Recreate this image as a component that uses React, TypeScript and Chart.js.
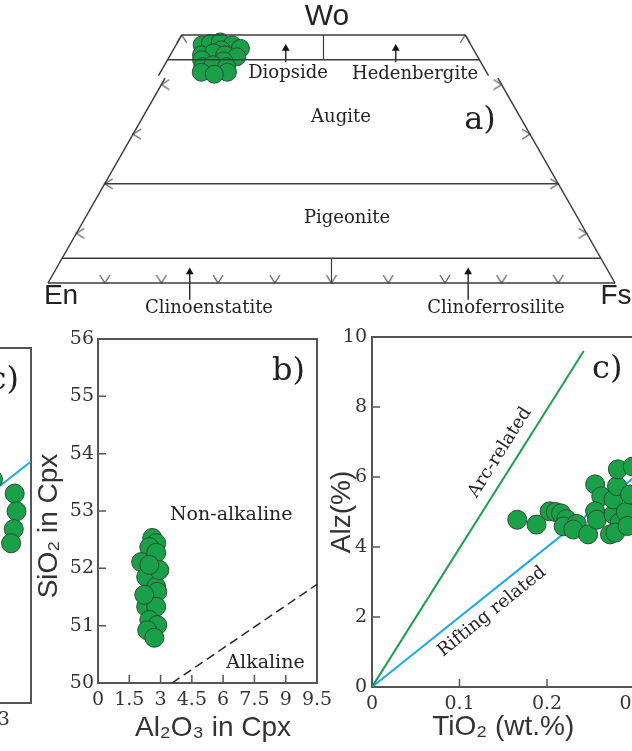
import React, { useEffect, useRef } from "react";
import { Chart, registerables } from "chart.js";

Chart.register(...registerables);

// ================= DATA =================
// (a) Pyroxene quadrilateral compositions, mol %
const pxWo = [48.0, 48.3, 48.6, 48.0, 47.3, 47.0, 46.0, 46.4, 46.0, 45.6, 45.0, 44.8, 43.6, 44.0, 43.6, 42.5, 42.5, 42.1];
const pxEn = [47.4, 45.8, 43.9, 42.1, 41.0, 44.5, 48.5, 46.2, 44.4, 42.5, 49.0, 45.2, 49.5, 47.5, 45.3, 50.3, 45.7, 48.2];
const pxFs = [4.6, 5.9, 7.5, 9.9, 11.7, 8.5, 5.5, 7.4, 9.6, 11.9, 6.0, 10.0, 6.9, 8.5, 11.1, 7.2, 11.8, 9.7];
// Wo isopleths of the main quadrilateral and of the Wo45–50 strip
const woMainBoundaries = [20, 5, 0];
const woStripBoundaries = [50, 45];
const mainTopWo = 41.3;
const stripBottomWo = 41.8;
// arrow-tick positions
const baseTickFs = [10, 20, 30, 40, 50, 60, 70, 80, 90];
const sideTickWo = [10, 20, 30, 40];
// label pointers [woTail, fsTail, woHead, fsHead]
const stripArrows = [
  [44.5, 21.1, 47.3, 19.7],
  [44.5, 40.5, 47.3, 39.1],
];
const baseArrows = [
  [-3.4, 26.7, 2.2, 23.9],
  [-3.4, 75.8, 2.2, 73.0],
];

// (b) Al2O3 vs SiO2 in Cpx
const bAl2O3 = [2.60, 2.79, 2.46, 2.07, 2.79, 2.31, 2.79, 2.55, 2.84, 2.31, 2.79, 2.46, 2.84, 2.36, 2.70, 2.22, 2.94, 2.46];
const bSiO2 = [52.53, 52.44, 52.37, 52.11, 52.27, 51.85, 51.68, 51.50, 51.59, 51.33, 51.33, 51.10, 51.01, 50.92, 50.79, 51.54, 51.97, 52.06];
const bXTicks = [0, 1.5, 3, 4.5, 6, 7.5, 9, 10.5];
const bXTickLabels = ["0", "1.5", "3", "4.5", "6", "7.5", "9", "9.5"];
const bYTicks = [50, 51, 52, 53, 54, 55, 56];
const alkBoundaryX = [3.55, 10.5];
const alkBoundaryY = [50, 51.72];

// (c) TiO2 vs Alz
const cTiO2 = [0.166, 0.188, 0.203, 0.210, 0.216, 0.222, 0.219, 0.234, 0.230, 0.247, 0.255, 0.262, 0.255, 0.257, 0.272, 0.276, 0.276, 0.280, 0.281, 0.283, 0.278, 0.290, 0.292, 0.295, 0.298, 0.322, 0.324, 0.321, 0.318];
const cAlz = [4.78, 4.64, 5.02, 5.00, 4.96, 4.80, 4.59, 4.66, 4.50, 4.36, 5.79, 5.45, 5.02, 4.78, 4.36, 4.93, 5.36, 5.74, 6.22, 4.70, 4.41, 5.00, 4.60, 5.50, 6.30, 5.90, 5.40, 4.90, 4.50];
const cXTicks = [0, 0.1, 0.2, 0.3];
const cYTicks = [0, 2, 4, 6, 8, 10];
const arcLineX = [0, 0.242];
const arcLineY = [0, 9.6];
const riftLineX = [0, 0.34];
const riftLineY = [0, 6.8];

// ================= STYLE =================
const SERIF = '"DejaVu Serif", "Liberation Serif", serif';
const SANS = '"Liberation Sans", Arial, sans-serif';
const GREEN_FILL = "#19a048";
const GREEN_EDGE = "#2b4d33";
const LINE = "#3c3c3c";
const FRAME = "#555";

// ================= PLUGINS =================
const framePlugin = {
  id: "frame",
  beforeDatasetsDraw(chart: any, _a: any, opts: any) {
    if (!opts || !opts.enabled) return;
    const { ctx, chartArea: a, scales } = chart;
    ctx.save();
    ctx.strokeStyle = opts.color;
    ctx.lineWidth = opts.width;
    ctx.strokeRect(a.left, a.top, a.right - a.left, a.bottom - a.top);
    ctx.lineWidth = opts.tickWidth;
    const xs = scales.x;
    const ys = scales.y;
    ctx.beginPath();
    xs.ticks.forEach((t: any) => {
      if (t.value <= xs.min || t.value >= xs.max) return;
      const p = xs.getPixelForValue(t.value);
      ctx.moveTo(p, a.bottom);
      ctx.lineTo(p, a.bottom - opts.len);
    });
    ys.ticks.forEach((t: any) => {
      if (t.value <= ys.min || t.value >= ys.max) return;
      const p = ys.getPixelForValue(t.value);
      ctx.moveTo(a.left, p);
      ctx.lineTo(a.left + opts.len, p);
    });
    ctx.stroke();
    ctx.restore();
  },
};

const textPlugin = {
  id: "texts",
  afterDatasetsDraw(chart: any, _a: any, opts: any) {
    const items = (opts && opts.items) || [];
    const { ctx, chartArea: a } = chart;
    const sx = chart.scales.x;
    const sy = chart.scales.y;
    for (const it of items) {
      let px: number, py: number;
      if (it.fromRight !== undefined) {
        px = a.right - it.fromRight;
        py = a.top + it.fromTop;
      } else if (it.fromLeft !== undefined) {
        px = a.left - it.fromLeft;
        py = a.top + it.fromTop;
      } else {
        px = sx.getPixelForValue(it.x);
        py = sy.getPixelForValue(it.y);
      }
      let rot = ((it.rot || 0) * Math.PI) / 180;
      if (it.along) {
        const [x1, y1, x2, y2] = it.along;
        rot = Math.atan2(
          sy.getPixelForValue(y2) - sy.getPixelForValue(y1),
          sx.getPixelForValue(x2) - sx.getPixelForValue(x1)
        );
      }
      ctx.save();
      ctx.translate(px, py);
      ctx.rotate(rot);
      ctx.font = it.font;
      ctx.fillStyle = it.color || "#222";
      ctx.textAlign = it.align || "center";
      ctx.textBaseline = "middle";
      ctx.fillText(it.text, 0, 0);
      ctx.restore();
    }
  },
};

// chevron marker (vertex at the canvas centre, opening upward)
function makeChevron(w: number, h: number, color: string, lw: number) {
  const c = document.createElement("canvas");
  c.width = w;
  c.height = h * 2;
  const g = c.getContext("2d")!;
  g.strokeStyle = color;
  g.lineWidth = lw;
  g.beginPath();
  g.moveTo(1, 1);
  g.lineTo(w / 2, h);
  g.lineTo(w - 1, 1);
  g.stroke();
  return c;
}

// ================= PANEL A =================
const A_W = 632;
const A_H = 330;
const EN_PX = 48;
const FS_PX = 615;
const BASE_PX = 283;
const TOP_PX = 35;
const UNIT_X = FS_PX - EN_PX;
const UNIT_Y = (BASE_PX - TOP_PX) / 0.5;
const STRIP_SHIFT = -8 / UNIT_X; // the Wo45–50 strip is printed slightly left of the main field

function tern(wo: number, fs: number, shift = 0) {
  return { x: (fs + 0.5 * wo) / 100 + shift, y: wo / 100 };
}

function makeA() {
  const chev = makeChevron(12, 9, "#555", 1.2);

  const lineDs = (pts: { x: number; y: number }[], width = 1.5) => ({
    data: pts,
    showLine: true,
    borderColor: LINE,
    borderWidth: width,
    pointRadius: 0,
    clip: false,
  });

  const datasets: any[] = [];
  woMainBoundaries.forEach((wo) => datasets.push(lineDs([tern(wo, 0), tern(wo, 100 - wo)])));
  woStripBoundaries.forEach((wo) =>
    datasets.push(lineDs([tern(wo, 0, STRIP_SHIFT), tern(wo, 100 - wo, STRIP_SHIFT)]))
  );
  // sides of main field
  datasets.push(lineDs([tern(0, 0), tern(mainTopWo, 0)]));
  datasets.push(lineDs([tern(0, 100), tern(mainTopWo, 100 - mainTopWo)]));
  // sides of the strip
  datasets.push(lineDs([tern(stripBottomWo, 0, STRIP_SHIFT), tern(50, 0, STRIP_SHIFT)]));
  datasets.push(lineDs([tern(stripBottomWo, 100 - stripBottomWo, STRIP_SHIFT), tern(50, 50, STRIP_SHIFT)]));
  // dividers
  datasets.push(lineDs([tern(50, 25, STRIP_SHIFT), tern(45, 27.5, STRIP_SHIFT)], 1.2));
  datasets.push(lineDs([tern(5, 47.5), tern(0, 50)], 1.2));

  // chevron ticks
  const chevPts: { x: number; y: number }[] = [];
  const chevRot: number[] = [];
  baseTickFs.forEach((fs) => {
    chevPts.push(tern(0, fs));
    chevRot.push(0);
  });
  sideTickWo.forEach((wo) => {
    chevPts.push(tern(wo, 0));
    chevRot.push(90);
    chevPts.push(tern(wo, 100 - wo));
    chevRot.push(-90);
  });
  chevPts.push(tern(50, 0, STRIP_SHIFT));
  chevRot.push(180);
  chevPts.push(tern(50, 50, STRIP_SHIFT));
  chevRot.push(180);
  datasets.push({
    data: chevPts,
    pointStyle: chev,
    pointRadius: 6,
    rotation: (c: any) => chevRot[c.dataIndex],
    clip: false,
  });

  // label pointers
  const arrowDs = (a: number[], shift: number) => ({
    data: [tern(a[0], a[1], shift), tern(a[2], a[3], shift)],
    showLine: true,
    borderColor: "#111",
    borderWidth: 1.3,
    pointRadius: [0, 4.5],
    pointStyle: "triangle",
    backgroundColor: "#111",
    pointBorderWidth: 0,
    clip: false,
  });
  stripArrows.forEach((a) => datasets.push(arrowDs(a, STRIP_SHIFT)));
  baseArrows.forEach((a) => datasets.push(arrowDs(a, 0)));

  // samples
  datasets.push({
    data: pxWo.map((w, i) => {
      const s = w + pxEn[i] + pxFs[i];
      return tern((w / s) * 100, (pxFs[i] / s) * 100, STRIP_SHIFT);
    }),
    pointRadius: 9,
    backgroundColor: GREEN_FILL,
    borderColor: GREEN_EDGE,
    borderWidth: 1,
    clip: false,
  });

  const txt = (text: string, px: number, py: number, font: string) => ({
    text,
    x: (px - EN_PX) / UNIT_X,
    y: (BASE_PX - py) / UNIT_Y,
    font,
  });

  return {
    type: "scatter",
    data: { datasets },
    options: {
      animation: false,
      responsive: false,
      devicePixelRatio: 1,
      events: [],
      layout: { padding: 0, autoPadding: false },
      scales: {
        x: { type: "linear", display: false, min: -EN_PX / UNIT_X, max: (A_W - EN_PX) / UNIT_X },
        y: { type: "linear", display: false, min: -(A_H - BASE_PX) / UNIT_Y, max: BASE_PX / UNIT_Y },
      },
      plugins: {
        legend: { display: false },
        tooltip: { enabled: false },
        texts: {
          items: [
            txt("Wo", 327, 17, `30px ${SANS}`),
            txt("En", 61, 296, `28px ${SANS}`),
            txt("Fs", 616, 296, `28px ${SANS}`),
            txt("Diopside", 288, 73, `18px ${SERIF}`),
            txt("Hedenbergite", 415, 74, `18px ${SERIF}`),
            txt("Augite", 341, 117, `18px ${SERIF}`),
            txt("Pigeonite", 347, 218, `18px ${SERIF}`),
            txt("a)", 480, 121, `32px ${SERIF}`),
            txt("Clinoenstatite", 209, 308, `18px ${SERIF}`),
            txt("Clinoferrosilite", 496, 308, `18px ${SERIF}`),
          ],
        },
      },
    },
    plugins: [textPlugin],
  };
}

// ================= PANELS B / C =================
const tickFont = { family: SERIF, size: 19 };
const titleFont = { family: SANS, size: 28 };

function makeB() {
  return {
    type: "scatter",
    data: {
      datasets: [
        {
          data: alkBoundaryX.map((x, i) => ({ x, y: alkBoundaryY[i] })),
          showLine: true,
          borderColor: "#222",
          borderWidth: 1.5,
          borderDash: [9, 5],
          pointRadius: 0,
        },
        {
          data: bAl2O3.map((x, i) => ({ x, y: bSiO2[i] })),
          pointRadius: 9.5,
          backgroundColor: GREEN_FILL,
          borderColor: GREEN_EDGE,
          borderWidth: 1,
          clip: false,
        },
      ],
    },
    options: {
      animation: false,
      responsive: false,
      devicePixelRatio: 1,
      events: [],
      layout: { padding: { top: 19, right: 23, left: 0, bottom: 0 }, autoPadding: false },
      scales: {
        x: {
          type: "linear",
          min: 0,
          max: 10.5,
          afterBuildTicks: (s: any) => {
            s.ticks = bXTicks.map((v) => ({ value: v }));
          },
          afterFit: (s: any) => {
            s.height = 68;
          },
          grid: { display: false, drawTicks: false },
          border: { display: false },
          ticks: {
            autoSkip: false,
            maxRotation: 0,
            minRotation: 0,
            padding: 6,
            color: "#333",
            font: tickFont,
            callback: (_v: any, i: number) => bXTickLabels[i],
          },
          title: { display: false },
        },
        y: {
          type: "linear",
          min: 50,
          max: 56,
          afterBuildTicks: (s: any) => {
            s.ticks = bYTicks.map((v) => ({ value: v }));
          },
          afterFit: (s: any) => {
            s.width = 98;
          },
          grid: { display: false, drawTicks: false },
          border: { display: false },
          ticks: { autoSkip: false, padding: 4, color: "#333", font: tickFont },
          title: { display: false },
        },
      },
      plugins: {
        legend: { display: false },
        tooltip: { enabled: false },
        frame: { enabled: true, color: FRAME, width: 2, tickWidth: 1.5, len: 8 },
        texts: {
          items: [
            { text: "b)", fromRight: 12, fromTop: 33, font: `32px ${SERIF}`, align: "right" },
            { text: "Non-alkaline", x: 6.39, y: 52.93, font: `19px ${SERIF}` },
            { text: "Alkaline", x: 8.03, y: 50.35, font: `19px ${SERIF}` },
            { text: "SiO₂ in Cpx", fromLeft: 49, fromTop: 187, rot: -90, font: `28px ${SANS}`, color: "#333" },
            { text: "Al₂O₃ in Cpx", fromLeft: -115, fromTop: 389, font: `28px ${SANS}`, color: "#333" },
          ],
        },
      },
    },
    plugins: [framePlugin, textPlugin],
  };
}

function makeC(g: { xMax: number; padTop: number; padRight: number; axisH: number; yAxisW: number }) {
  return {
    type: "scatter",
    data: {
      datasets: [
        {
          data: arcLineX.map((x, i) => ({ x, y: arcLineY[i] })),
          showLine: true,
          borderColor: "#1f9d4f",
          borderWidth: 2,
          pointRadius: 0,
        },
        {
          data: cTiO2.map((x, i) => ({ x, y: cAlz[i] })),
          pointRadius: 9.5,
          backgroundColor: GREEN_FILL,
          borderColor: GREEN_EDGE,
          borderWidth: 1,
        },
        {
          data: riftLineX.map((x, i) => ({ x, y: riftLineY[i] })),
          showLine: true,
          borderColor: "#1ea8e4",
          borderWidth: 2,
          pointRadius: 0,
        },
      ],
    },
    options: {
      animation: false,
      responsive: false,
      devicePixelRatio: 1,
      events: [],
      layout: { padding: { top: g.padTop, right: g.padRight, left: 0, bottom: 0 }, autoPadding: false },
      scales: {
        x: {
          type: "linear",
          min: 0,
          max: g.xMax,
          afterBuildTicks: (s: any) => {
            s.ticks = cXTicks.map((v) => ({ value: v }));
          },
          afterFit: (s: any) => {
            s.height = g.axisH;
          },
          grid: { display: false, drawTicks: false },
          border: { display: false },
          ticks: { autoSkip: false, maxRotation: 0, minRotation: 0, padding: 6, color: "#333", font: tickFont },
          title: { display: true, text: "TiO₂ (wt.%)", color: "#333", font: titleFont, padding: { top: 0, bottom: 7 } },
        },
        y: {
          type: "linear",
          min: 0,
          max: 10,
          afterBuildTicks: (s: any) => {
            s.ticks = cYTicks.map((v) => ({ value: v }));
          },
          afterFit: (s: any) => {
            s.width = g.yAxisW;
          },
          grid: { display: false, drawTicks: false },
          border: { display: false },
          ticks: { autoSkip: false, padding: 5, color: "#333", font: tickFont },
          title: { display: true, text: "Alz(%)", color: "#333", font: titleFont, padding: { top: 25, bottom: 0 } },
        },
      },
      plugins: {
        legend: { display: false },
        tooltip: { enabled: false },
        frame: { enabled: true, color: FRAME, width: 2, tickWidth: 1.5, len: 8 },
        texts: {
          items: [
            { text: "c)", fromRight: 12, fromTop: 33, font: `32px ${SERIF}`, align: "right" },
            {
              text: "Arc-related",
              x: 0.1463,
              y: 6.7,
              font: `18px ${SERIF}`,
              along: [arcLineX[0], arcLineY[0], arcLineX[1], arcLineY[1]],
            },
            {
              text: "Rifting related",
              x: 0.137,
              y: 2.15,
              font: `18px ${SERIF}`,
              along: [riftLineX[0], riftLineY[0], riftLineX[1], riftLineY[1]],
            },
          ],
        },
      },
    },
    plugins: [framePlugin, textPlugin],
  };
}

// ================= COMPONENTS =================
function ChartCanvas(props: { left: number; top: number; width: number; height: number; make: () => any }) {
  const ref = useRef<HTMLCanvasElement | null>(null);
  useEffect(() => {
    if (!ref.current) return;
    const chart = new Chart(ref.current, props.make());
    return () => chart.destroy();
  }, []);
  return (
    <canvas
      ref={ref}
      width={props.width}
      height={props.height}
      style={{
        position: "absolute",
        left: props.left,
        top: props.top,
        width: props.width,
        height: props.height,
      }}
    />
  );
}

export default function App() {
  return (
    <div
      style={{
        position: "absolute",
        left: 0,
        top: 0,
        width: 632,
        height: 751,
        overflow: "hidden",
        background: "#ffffff",
      }}
    >
      {/* cropped neighbour panel (right edge of a TiO2–Alz plot) */}
      <ChartCanvas
        left={-349}
        top={330}
        width={400}
        height={431}
        make={() => makeC({ xMax: 0.34, padTop: 18, padRight: 20, axisH: 58, yAxisW: 72 })}
      />
      <ChartCanvas left={0} top={0} width={A_W} height={A_H} make={makeA} />
      <ChartCanvas left={0} top={320} width={340} height={431} make={makeB} />
      <ChartCanvas
        left={300}
        top={320}
        width={400}
        height={431}
        make={() => makeC({ xMax: 0.3, padTop: 17, padRight: 65.5, axisH: 64, yAxisW: 72 })}
      />
    </div>
  );
}
